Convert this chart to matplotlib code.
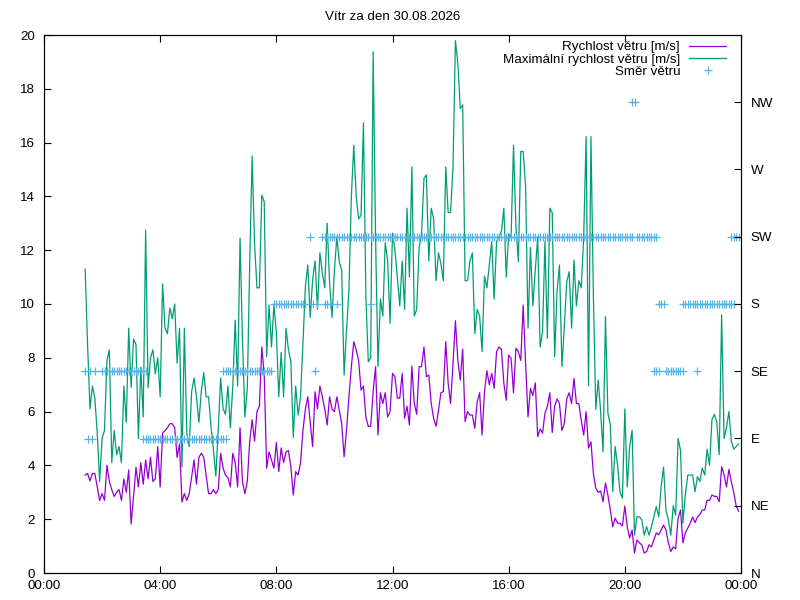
import matplotlib
matplotlib.use('Agg')
import matplotlib.pyplot as plt
import numpy as np

plt.rcParams['font.family'] = ['Liberation Sans', 'DejaVu Sans']
plt.rcParams['font.size'] = 9.6

title = 'Vítr za den 30.08.2026'
start_time = '01:25'
step_minutes = 5

# prumerna rychlost vetru [m/s], po 5 minutach
speed = [3.64, 3.7, 3.42, 3.7, 3.7, 3.2, 2.7, 2.95, 2.7, 4.0, 3.4, 3.1, 2.84, 3.0, 3.1, 2.7, 3.5,
         3.0, 3.83, 1.82, 2.84, 3.93, 3.2, 4.1, 3.3, 4.2, 3.5, 4.3, 3.4, 3.5, 4.7, 3.2, 5.2,
         5.3, 5.4, 5.55, 5.55, 5.4, 4.3, 4.8, 2.64, 2.95, 2.7, 2.95, 3.57, 4.2, 3.3, 4.3, 4.45,
         4.3, 3.64, 2.95, 2.95, 3.1, 2.95, 3.1, 4.45, 3.9, 3.64, 3.55, 3.2, 4.45, 4.1, 3.2, 5.4,
         3.4, 2.95, 3.4,
         4.9, 5.7, 4.9, 6.0, 6.2, 8.4, 7.36, 3.9, 4.5, 4.2, 3.9, 4.85, 3.77, 4.65, 4.1, 4.5,
         4.55, 3.95, 2.9, 3.77, 3.64, 4.1, 5.3, 6.1, 6.55, 5.6, 4.7, 6.74, 6.1, 6.95, 6.55, 6.1,
         5.5, 6.55,
         6.1, 6.0, 6.55, 6.05, 5.56, 4.32, 5.3, 6.55, 7.67, 8.6, 8.3, 7.9, 6.8, 6.95, 5.8, 5.45,
         5.45, 6.74, 7.67, 5.13, 6.7, 6.3, 6.7, 5.8, 6.0, 7.42, 7.3, 6.5, 6.5, 7.42, 5.75, 6.2,
         5.5, 7.7, 6.3, 5.9, 7.67, 7.67, 8.4, 7.3, 7.36, 6.3,
         5.75, 5.45, 6.05, 6.7, 6.74, 8.6, 7.05, 6.3, 7.78, 9.38, 7.9, 7.17, 8.32, 5.63, 6.0,
         5.87, 5.87, 5.38, 6.36, 6.7, 5.13, 6.74, 7.52, 7.0, 7.42, 6.86, 8.23, 8.4, 8.32, 7.06,
         6.42, 8.1, 7.98, 6.7, 8.36, 8.23, 7.9, 9.96, 7.78, 5.8, 6.86, 6.6,
         7.07, 5.07, 5.35, 5.2, 5.95, 6.2, 6.7, 5.22, 6.2, 6.47, 6.3, 5.3, 5.56, 6.47, 6.7, 6.3,
         7.23, 6.3, 6.3, 5.66, 5.13, 6.0, 4.64, 4.88, 3.7, 3.15, 3.0, 3.05, 2.65, 3.35, 2.9,
         2.34, 1.72, 2.04, 1.85, 1.85, 1.75, 2.49, 1.72, 1.3, 1.6, 0.74,
         1.23, 1.12, 1.05, 0.74, 0.8, 1.05, 0.97, 1.23, 1.49, 1.42, 1.6, 1.78, 1.6, 1.12, 0.8,
         0.97, 0.9, 2.04, 2.34, 1.12, 1.49, 1.67, 1.85, 2.08, 1.87, 2.08, 2.17, 2.34, 2.34,
         2.7, 2.7, 2.9, 2.85, 2.85, 2.65, 3.95, 3.65, 3.2, 3.85, 3.4, 3.0, 2.5, 2.3]

# maximalni rychlost vetru [m/s]
gust = [11.3, 8.5, 6.1, 6.95, 6.5, 5.2, 3.4, 5.0, 5.3, 7.9, 8.3, 4.1, 5.3, 4.4, 4.7, 4.1, 6.95,
        5.6, 9.1, 6.9, 8.7, 8.5, 5.0, 7.65, 5.8, 12.75, 6.9, 8.0, 8.3, 7.4, 8.0, 6.55, 10.75,
        9.1, 8.9, 9.85, 9.45, 10.0, 7.8, 9.1, 3.94, 9.1, 5.2, 4.7, 6.74, 7.25, 6.55, 5.6, 6.74,
        7.45, 6.55, 6.55, 5.45, 4.6, 3.6, 5.35, 7.25, 6.1, 5.9, 6.95, 5.4, 6.95, 9.4, 6.95,
        12.45, 8.7, 5.8, 6.85,
        11.5, 15.5, 12.25, 10.6, 10.6, 14.05, 13.8, 8.04, 9.96, 8.4, 9.96, 8.97, 6.55, 8.2,
        6.55, 9.1, 8.3, 7.85, 5.04, 6.95, 5.87, 6.55, 8.55, 10.65, 11.45, 9.5, 10.9, 11.6, 9.8,
        11.9, 11.15, 10.6, 13.0, 10.8,
        9.5, 11.26, 12.5, 11.57, 11.26, 7.36, 9.03, 10.5, 14.0, 15.9, 14.0, 13.16, 13.3, 16.74,
        10.27, 7.85, 8.0, 19.38, 12.5, 7.67, 10.19, 9.55, 12.28, 11.6, 9.28, 12.63, 12.0, 11.0,
        9.93, 11.6, 9.8, 13.56, 11.0, 15.1, 9.55, 9.8, 12.1, 12.6, 14.67, 14.8, 11.6, 13.56,
        13.18, 10.87, 11.9, 11.5, 10.87, 15.1, 13.4, 13.4, 15.1, 19.79, 18.95, 17.27, 17.4,
        10.87, 10.87, 11.6, 11.9, 8.9, 9.8, 9.55, 8.23, 11.04, 10.6, 11.45, 12.32, 10.18, 12.32,
        12.5, 12.7, 13.56, 11.0, 12.6, 12.5, 15.9, 12.9, 11.57, 15.67, 15.67, 14.36, 9.1, 12.1,
        9.93,
        11.26, 12.5, 8.4, 8.97, 12.32, 8.72, 13.56, 13.4, 8.04, 10.5, 11.45, 7.67, 9.16, 10.83,
        11.2, 9.1, 11.64, 9.93, 10.87, 10.6, 12.5, 16.22, 6.95, 16.22, 10.3, 6.08, 7.17, 6.0,
        4.5, 9.53, 5.95, 5.5, 3.02, 4.7, 4.0, 3.02, 2.78, 6.1, 3.2, 4.7, 5.3, 1.41,
        2.09, 2.09, 1.97, 1.41, 1.72, 1.41, 1.72, 2.09, 2.47, 2.09, 3.2, 3.94, 2.34, 1.97, 1.41,
        2.5, 2.15, 5.0, 4.57, 1.85, 2.9, 3.64, 3.64, 3.64, 3.02, 3.58, 3.4, 3.9, 3.64,
        4.6, 4.0, 5.7, 5.9, 5.6, 4.4, 9.6, 5.0, 5.4, 6.0, 4.9, 4.6, 4.7, 4.8]

# smer vetru: useky (od, do, smer)
compass = ['N', 'NE', 'E', 'SE', 'S', 'SW', 'W', 'NW']
dir_start = ['01:25', '01:30', '01:35', '01:40', '01:45', '02:00', '03:25', '06:10', '07:55',
             '09:10', '09:15', '09:20', '09:25', '09:35', '09:40', '10:05', '11:15', '20:15',
             '20:25', '21:00', '21:10', '21:25', '22:00', '22:30', '23:40']
dir_end = ['01:25', '01:30', '01:35', '01:40', '01:45', '03:30', '06:15', '07:50', '09:00',
           '09:10', '09:15', '09:20', '09:25', '20:15', '09:50', '10:05', '11:15', '20:20',
           '21:05', '21:10', '21:20', '22:00', '23:45', '22:30', '23:55']
dir_name = ['SE', 'E', 'SE', 'E', 'SE', 'SE', 'E', 'SE', 'S',
            'SW', 'S', 'SE', 'S', 'SW', 'S', 'S', 'S', 'NW',
            'SW', 'SE', 'S', 'SE', 'S', 'SE', 'SW']

x_tick_hours = [0, 4, 8, 12, 16, 20, 24]
x_tick_labels = ['00:00', '04:00', '08:00', '12:00', '16:00', '20:00', '00:00']


def to_hours(text):
    h, m = text.split(':')
    return int(h) + int(m) / 60


step = step_minutes / 60
t_speed = to_hours(start_time) + np.arange(len(speed)) * step
t_gust = to_hours(start_time) + np.arange(len(gust)) * step

dir_t = []
dir_v = []
for s, e, name in zip(dir_start, dir_end, dir_name):
    t = np.arange(to_hours(s), to_hours(e) + 1e-6, step)
    dir_t.extend(t)
    dir_v.extend([compass.index(name) * 2.5] * len(t))

fig = plt.figure(figsize=(8, 6), dpi=100)
ax = fig.add_axes([44 / 800, 27 / 600, 697 / 800, 538 / 600])

ax.plot(t_speed, speed, color='#9400d3', lw=0.9, label='Rychlost větru [m/s]')
ax.plot(t_gust, gust, color='#009e73', lw=0.9, label='Maximální rychlost větru [m/s]')
ax.plot(dir_t, dir_v, ls='none', marker='+', ms=6, mew=0.9, color='#56b4e9',
        label='Směr větru')

ax.set_xlim(0, 24)
ax.set_ylim(0, 20)
ax.set_xticks(x_tick_hours)
ax.set_xticklabels(x_tick_labels)
ax.set_yticks(range(0, 21, 2))
ax.tick_params(axis='both', direction='in', length=5, width=0.8, top=True, right=True)
ax.tick_params(axis='y', pad=6.5)
ax.tick_params(axis='x', pad=5)
for side in ax.spines.values():
    side.set_linewidth(0.8)

ax2 = ax.twinx()
ax2.set_ylim(0, 20)
ax2.set_yticks(np.arange(len(compass)) * 2.5)
ax2.set_yticklabels(compass)
ax2.tick_params(direction='in', length=5, width=0.8, pad=7)

leg = ax.legend(loc='upper right', bbox_to_anchor=(0.99, 1.004), frameon=False,
                markerfirst=False, numpoints=1, handlelength=2.75, handletextpad=0.7,
                labelspacing=0.0, borderaxespad=0.2)

fig.text(393 / 800, 1 - 17 / 600, title, ha='center', va='center')

fig.savefig('out.png', dpi=100)
